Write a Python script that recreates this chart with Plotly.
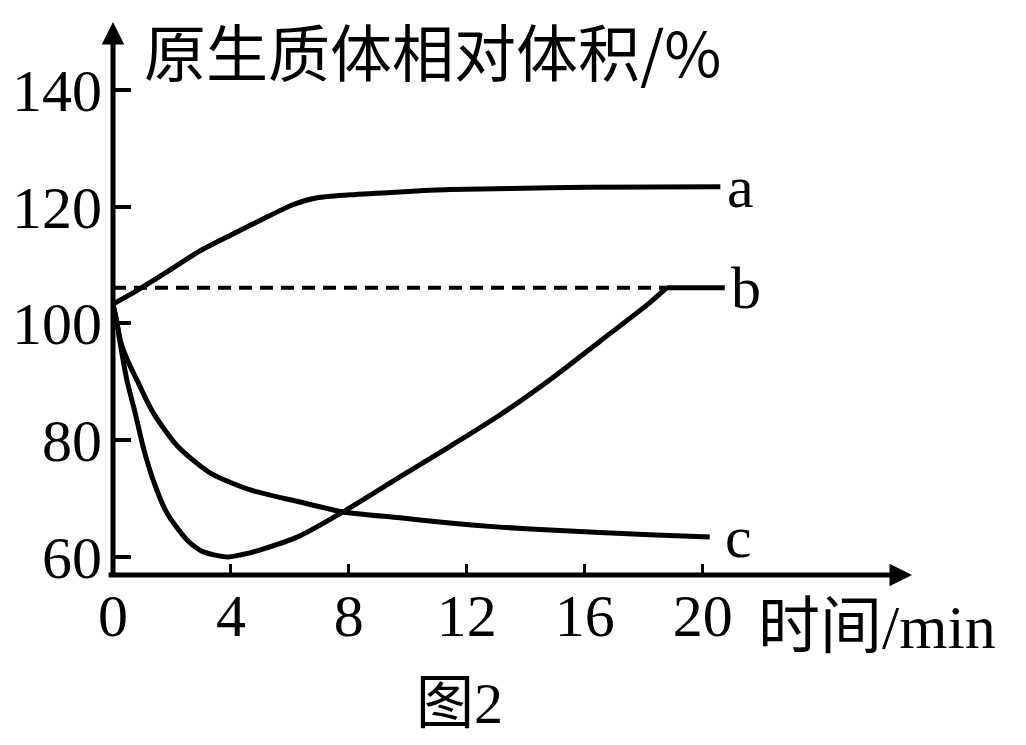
import plotly.graph_objects as go

# ---- data ----
a_x = [0, 0.68, 1.83, 2.95, 4.07, 5.22, 6.10, 6.92, 8.03, 9.73, 11.42, 13.5, 16.07, 20.6]
a_y = [103.3, 105.2, 108.8, 112.4, 115.3, 118.2, 120.3, 121.5, 122.0, 122.5, 122.9, 123.1, 123.3, 123.4]

b_x = [0, 0.12, 0.24, 0.47, 0.75, 1.02, 1.36, 1.83, 2.51, 3.05, 3.9, 4.64,
       5.5, 6.34, 7.8, 9.73, 11.42, 13.12, 14.81, 16.51, 18.2, 18.78, 20.75]
b_y = [103.2, 100.5, 96.7, 90.3, 84.7, 78.9, 73.2, 67.5, 62.9, 60.9, 60.0, 60.7,
       62.0, 63.6, 67.7, 73.7, 78.9, 84.3, 90.3, 96.9, 103.5, 106.1, 106.1]
b_corner = 21  # index where b turns flat

c_x = [0, 0.1, 0.27, 0.5, 0.81, 1.36, 2.20, 3.29, 4.64, 6.34, 7.80, 9.73, 11.42, 13.12, 14.81, 18.20, 20.24]
c_y = [103.2, 101.0, 96.7, 93.6, 90.3, 84.7, 78.9, 74.4, 71.5, 69.4, 67.7, 66.7, 65.8, 65.1, 64.6, 63.8, 63.4]

ref_x = [0, 18.78]
ref_y = [106.1, 106.1]

x_ticks = [0, 4, 8, 12, 16, 20]
y_ticks = [60, 80, 100, 120, 140]
curve_labels = ["a", "b", "c"]

title_text = "原生质体相对体积/%"
xlab_text = "时间/min"
fig_caption = "图2"

X_RANGE = [0, 27.1]
Y_RANGE = [56.9, 151.6]

SERIF = "Liberation Serif, Times New Roman, Noto Sans CJK SC"
MIXED = "Liberation Serif, Noto Sans CJK SC"

fig = go.Figure()

smooth = dict(color="black", width=5, shape="spline", smoothing=0.7)
straight = dict(color="black", width=5, shape="linear")
fig.add_trace(go.Scatter(x=a_x, y=a_y, mode="lines", line=smooth, hoverinfo="skip"))
fig.add_trace(go.Scatter(x=b_x[:b_corner + 1], y=b_y[:b_corner + 1], mode="lines",
                         line=smooth, hoverinfo="skip"))
fig.add_trace(go.Scatter(x=b_x[b_corner:], y=b_y[b_corner:], mode="lines",
                         line=straight, hoverinfo="skip"))
fig.add_trace(go.Scatter(x=c_x, y=c_y, mode="lines", line=smooth, hoverinfo="skip"))
fig.add_trace(go.Scatter(x=ref_x, y=ref_y, mode="lines",
                         line=dict(color="black", width=4, dash="13px,8px"), hoverinfo="skip"))

# curve end labels
ends = [(a_x[-1], a_y[-1]), (b_x[-1], b_y[-1]), (c_x[-1], c_y[-1])]
gaps = [0.15, 0.15, 0.45]
for lab, (ex, ey), g in zip(curve_labels, ends, gaps):
    fig.add_annotation(x=ex + g, y=ey, text=lab, showarrow=False, xanchor="left",
                       yanchor="middle", font=dict(family=SERIF, size=60, color="black"))

# axis arrows
fig.add_annotation(x=X_RANGE[1], y=Y_RANGE[0], ax=-0.2, ay=Y_RANGE[0], xref="x", yref="y",
                   axref="x", ayref="y", text="", showarrow=True, arrowhead=2,
                   arrowsize=0.9, arrowwidth=5, arrowcolor="black")
fig.add_annotation(x=0, y=Y_RANGE[1], ax=0, ay=Y_RANGE[0] - 0.3, xref="x", yref="y",
                   axref="x", ayref="y", text="", showarrow=True, arrowhead=2,
                   arrowsize=0.9, arrowwidth=5, arrowcolor="black")

# texts
fig.add_annotation(x=0.036, y=0.949, xref="paper", yref="paper", text=title_text,
                   showarrow=False, xanchor="left", yanchor="middle",
                   font=dict(family="Noto Sans CJK SC, Liberation Serif", size=62, color="black"))
fig.add_annotation(x=0.805, y=-0.094, xref="paper", yref="paper", text=xlab_text,
                   showarrow=False, xanchor="left", yanchor="middle",
                   font=dict(family=MIXED, size=62, color="black"))
fig.add_annotation(x=0.434, y=-0.232, xref="paper", yref="paper", text=fig_caption,
                   showarrow=False, xanchor="center", yanchor="middle",
                   font=dict(family=MIXED, size=58, color="black"))

fig.update_xaxes(range=X_RANGE, tickvals=x_ticks, ticktext=[str(v) for v in x_ticks],
                 ticks="inside", ticklen=11, tickwidth=3, tickcolor="black",
                 showgrid=False, zeroline=False, showline=False,
                 tickfont=dict(family=SERIF, size=60, color="black"), fixedrange=True)
fig.update_yaxes(range=Y_RANGE, tickvals=y_ticks, ticktext=[str(v) for v in y_ticks],
                 ticks="inside", ticklen=18, tickwidth=4, tickcolor="black",
                 showgrid=False, zeroline=False, showline=False, ticklabelstandoff=10,
                 tickfont=dict(family=SERIF, size=60, color="black"), fixedrange=True)

# the page adds ~8px body margin, so the plot area is shifted up/left to compensate
fig.update_layout(width=1026, height=745, showlegend=False,
                  margin=dict(l=105, r=122, t=14, b=178, autoexpand=False),
                  paper_bgcolor="white", plot_bgcolor="white")

fig.write_html("out.html")
